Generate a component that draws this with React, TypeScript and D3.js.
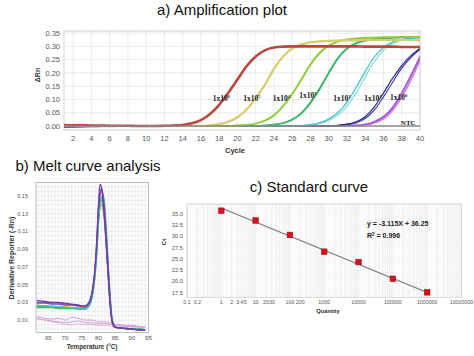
import React from "react";
import * as d3 from "d3";

// ---------- Panel a: amplification plot data ----------
const cycles = [1,2,3,4,5,6,7,8,9,10,11,12,13,14,15,16,17,18,19,20,21,22,23,24,25,26,27,28,29,30,31,32,33,34,35,36,37,38,39,40];
const ampYTicks = [0, 0.05, 0.1, 0.15, 0.2, 0.25, 0.3, 0.35];
const ampXTicks = [2,4,6,8,10,12,14,16,18,20,22,24,26,28,30,32,34,36,38,40];

const red6 = [0.004,0.003,0.003,0.002,0.002,0.001,0.001,0.001,0,0,0,0.001,0.002,0.004,0.010,0.022,0.045,0.08,0.125,0.175,0.225,0.262,0.285,0.296,0.299,0.300,0.300,0.300,0.300,0.300,0.300,0.300,0.300,0.299,0.299,0.299,0.299,0.298,0.298,0.298];
const yellow5 = [0.001,0.001,0,0,0,0,0,0,0,0,0,0,0,0,0.001,0.001,0.003,0.007,0.016,0.033,0.062,0.105,0.155,0.215,0.262,0.292,0.307,0.315,0.319,0.321,0.322,0.323,0.323,0.324,0.324,0.324,0.324,0.324,0.324,0.323];
const lime4 = [0,0,0,0,0,0,0,0,0,0,0,0,0,0,0,0,0,0,0,0.002,0.004,0.009,0.02,0.04,0.075,0.12,0.175,0.232,0.275,0.303,0.318,0.326,0.33,0.332,0.333,0.334,0.334,0.335,0.335,0.335];
const green3 = [0,0,0,0,0,0,0,0,0,0,0,0,0,0,0,0,0,0,0,0,0,0,0.002,0.005,0.011,0.024,0.048,0.088,0.14,0.2,0.255,0.292,0.312,0.322,0.328,0.331,0.333,0.334,0.335,0.335];
const cyan2a = [0,0,0,0,0,0,0,0,0,0,0,0,0,0,0,0,0,0,0,0,0,0,0,0,0,0,0.002,0.005,0.012,0.026,0.05,0.09,0.145,0.205,0.26,0.296,0.316,0.326,0.331,0.333];
const cyan2b = [0,0,0,0,0,0,0,0,0,0,0,0,0,0,0,0,0,0,0,0,0,0,0,0,0,0,0.001,0.004,0.009,0.02,0.04,0.075,0.125,0.185,0.243,0.285,0.31,0.323,0.329,0.332];
const navy1a = [-0.003,-0.002,-0.002,-0.001,-0.001,-0.001,0,0,0,0,0,0,0,0,0,0,0,0,0,0,0,0,0,0,0,0,0,0,0,0.001,0.003,0.007,0.016,0.035,0.072,0.125,0.18,0.228,0.265,0.292];
const navy1b = [-0.002,-0.002,-0.001,-0.001,-0.001,0,0,0,0,0,0,0,0,0,0,0,0,0,0,0,0,0,0,0,0,0,0,0,0,0.001,0.002,0.005,0.012,0.028,0.06,0.11,0.165,0.218,0.258,0.288];
const purple0a = [-0.003,-0.003,-0.002,-0.002,-0.001,-0.001,-0.001,0,0,0,0,0,0,0,0,0,0,0,0,0,0,0,0,0,0,0,0,0,0,0,0,0.001,0.002,0.006,0.016,0.035,0.07,0.125,0.19,0.262];
const purple0b = [-0.002,-0.002,-0.002,-0.001,-0.001,-0.001,0,0,0,0,0,0,0,0,0,0,0,0,0,0,0,0,0,0,0,0,0,0,0,0,0,0.001,0.002,0.005,0.012,0.028,0.06,0.11,0.175,0.25];
const ntcAmp = [0,0,0,0,0,0,0,0,0,0,0,0,0,0,0,0,0,0,0,0,0,0,0,0,0,0,0,0,0,0,0,0,0,0,0,0,0,0,0,0];

const ampSeries = [
  { values: purple0b, color: "#c77fe0", width: 2 },
  { values: purple0a, color: "#a94fd0", width: 1.6 },
  { values: navy1b, color: "#4040a8", width: 1.2 },
  { values: navy1a, color: "#27277e", width: 1.2 },
  { values: cyan2b, color: "#7fdde0", width: 1.2 },
  { values: cyan2a, color: "#3fbfc6", width: 1.2 },
  { values: green3, color: "#3cb46c", width: 2 },
  { values: lime4, color: "#8fcc3a", width: 2 },
  { values: yellow5, color: "#d8cc6a", width: 2.2 },
  { values: red6, color: "#b8483e", width: 2.6 },
];

const ampLabelExp = ["6", "5", "4", "3", "2", "1", "0"];
const ampLabelCycles = [17.3, 20.64, 23.86, 26.78, 30.5, 33.9, 36.71];
const ampLabelValues = [0.096, 0.096, 0.096, 0.107, 0.096, 0.096, 0.098];

// ---------- Panel b: melt curve data ----------
const meltTemps = [61.5,64,66,68,70,72,74,75,76,77,77.5,78,78.5,79,79.5,80,80.5,81,81.5,82,82.5,83,83.5,84,84.5,85,87,90,92,94];
const meltPurple = [0.032,0.031,0.030,0.030,0.029,0.028,0.027,0.026,0.026,0.029,0.033,0.04,0.052,0.07,0.1,0.14,0.163,0.158,0.14,0.115,0.085,0.055,0.028,0.01,0.004,0.002,0.001,0,-0.001,-0.001];
const meltBlue = [0.029,0.029,0.028,0.028,0.027,0.027,0.026,0.025,0.025,0.028,0.031,0.038,0.05,0.068,0.097,0.135,0.155,0.158,0.145,0.12,0.09,0.058,0.03,0.011,0.004,0.002,0.001,0,-0.001,-0.001];
const meltGreen = [0.024,0.024,0.024,0.023,0.023,0.023,0.022,0.022,0.022,0.025,0.028,0.034,0.045,0.062,0.088,0.122,0.142,0.148,0.142,0.125,0.097,0.065,0.035,0.013,0.005,0.002,0.001,0,0,-0.001];
const meltTeal = [0.026,0.026,0.025,0.025,0.024,0.024,0.023,0.023,0.023,0.025,0.028,0.034,0.045,0.06,0.085,0.118,0.14,0.149,0.15,0.135,0.105,0.07,0.038,0.015,0.006,0.002,0.001,0,0,-0.001];
const meltTan = [0.027,0.026,0.026,0.025,0.025,0.024,0.024,0.023,0.023,0.026,0.029,0.036,0.047,0.064,0.09,0.12,0.136,0.14,0.132,0.112,0.085,0.055,0.028,0.01,0.004,0.002,0.001,0,0,-0.001];
const meltGray = [0.025,0.025,0.025,0.024,0.024,0.024,0.023,0.023,0.023,0.026,0.029,0.035,0.046,0.063,0.09,0.125,0.142,0.145,0.135,0.115,0.087,0.057,0.03,0.011,0.004,0.002,0.001,0,0,-0.001];
const meltViolet = [0.03,0.03,0.029,0.029,0.028,0.027,0.026,0.025,0.025,0.028,0.032,0.039,0.05,0.067,0.095,0.132,0.15,0.156,0.148,0.127,0.097,0.064,0.034,0.013,0.005,0.002,0.001,0,-0.001,-0.001];

const ntcTemps = [61.5,64,66,68,70,72,74,76,78,80,82,84,86,88,90,92,94];
const ntcMeltA = [0.014,0.012,0.011,0.012,0.010,0.013,0.012,0.010,0.010,0.008,0.008,0.006,0.005,0.004,0.004,0.003,0.002];
const ntcMeltB = [0.012,0.010,0.009,0.008,0.007,0.008,0.009,0.007,0.007,0.006,0.006,0.005,0.004,0.003,0.003,0.002,0.002];
const ntcMeltC = [0.011,0.010,0.008,0.007,0.005,0.005,0.006,0.005,0.005,0.004,0.004,0.003,0.003,0.003,0.002,0.002,0.002];

const meltYTicks = [0.01, 0.03, 0.05, 0.07, 0.09, 0.11, 0.13, 0.15];
const meltXTicks = [65, 70, 75, 80, 85, 90, 95];

const meltSeries = [
  { values: meltTan, color: "#c9a650" },
  { values: meltGray, color: "#80808c" },
  { values: meltGreen, color: "#3cb86a" },
  { values: meltTeal, color: "#3fc4bc" },
  { values: meltBlue, color: "#5b5bd0" },
  { values: meltViolet, color: "#8e4fb0" },
  { values: meltPurple, color: "#6a3fa0" },
];
const ntcMeltSeries = [
  { values: ntcMeltA, color: "#d690c8" },
  { values: ntcMeltB, color: "#b59ad8" },
  { values: ntcMeltC, color: "#e6a9c9" },
];

// ---------- Panel c: standard curve data ----------
const quantities = [1, 10, 100, 1000, 10000, 100000, 1000000];
const ctValues = [35.66, 33.5, 30.3, 26.6, 24.3, 20.6, 17.6];
const fitX = [1, 1000000];
const fitY = [36.25, 17.56];
const stdYTicks = [17.5, 20, 22.5, 25, 27.5, 30, 32.5, 35];
const stdXTicks = [0.1, 0.2, 1, 2, 3, 4, 5, 10, 20, 30, 100, 200, 1000, 10000, 100000, 1000000, 10000000];
const stdXTickLabels = ["0.1", "0.2", "1", "2", "3", "4", "5", "10", "20", "30", "100", "200", "1000", "10000", "100000", "1000000", "10000000"];

const SANS = "'Liberation Sans', Arial, Helvetica, sans-serif";
const SERIF = "'Liberation Serif', 'Times New Roman', serif";

function AmplificationPanel() {
  const L = 64, R = 420, T = 31, B = 130;
  const x = d3.scaleLinear().domain([1, 40]).range([L, R]);
  const y = d3.scaleLinear().domain([-0.015, 0.358]).range([B, T]);
  const line = d3.line<number>().x((_, i) => x(cycles[i])).y((d) => y(d)).curve(d3.curveMonotoneX);
  return (
    <g>
      <text x={222} y={15} textAnchor="middle" fontFamily={SANS} fontSize={15} fill="#111">a) Amplification plot</text>
      <rect x={L} y={T} width={R - L} height={B - T} fill="#fff" />
      {ampXTicks.map((t) => (
        <line key={"gx" + t} x1={x(t)} x2={x(t)} y1={T} y2={B} stroke="#e6e6e6" strokeWidth={0.8} />
      ))}
      {ampYTicks.map((t) => (
        <line key={"gy" + t} x1={L} x2={R} y1={y(t)} y2={y(t)} stroke="#e6e6e6" strokeWidth={0.8} />
      ))}
      <rect x={L} y={T} width={R - L} height={B - T} fill="none" stroke="#cfcfcf" strokeWidth={1} />
      <clipPath id="clipA"><rect x={L} y={T} width={R - L} height={B - T} /></clipPath>
      <g clipPath="url(#clipA)">
        {ampSeries.map((s, i) => (
          <path key={i} d={line(s.values) || ""} fill="none" stroke={s.color} strokeWidth={s.width} strokeLinejoin="round" />
        ))}
        <path d={line(ntcAmp) || ""} fill="none" stroke="#8a8a8a" strokeWidth={1.6} />
      </g>
      {ampYTicks.map((t) => (
        <text key={"ty" + t} x={60} y={y(t) + 2.6} textAnchor="end" fontFamily={SANS} fontSize={7.5} fill="#555">{t.toFixed(2)}</text>
      ))}
      {ampXTicks.map((t) => (
        <text key={"tx" + t} x={x(t)} y={141} textAnchor="middle" fontFamily={SANS} fontSize={7.5} fill="#555">{t}</text>
      ))}
      <text x={235} y={153} textAnchor="middle" fontFamily={SANS} fontSize={7.5} fontWeight="bold" fill="#333">Cycle</text>
      <text transform={`translate(40,75) rotate(-90)`} textAnchor="middle" fontFamily={SANS} fontSize={7} fontWeight="bold" fill="#333">ΔRn</text>
      {ampLabelExp.map((e, i) => (
        <text key={"lab" + i} x={x(ampLabelCycles[i])} y={y(ampLabelValues[i])} fontFamily={SERIF} fontSize={7.5} fontWeight="bold" fill="#222">
          1x10<tspan fontSize={4.5} dy={-3}>{e}</tspan>
        </text>
      ))}
      <text x={x(37.9)} y={y(0.0057)} fontFamily={SERIF} fontSize={7} fontWeight="bold" fill="#222">NTC</text>
    </g>
  );
}

function MeltPanel() {
  const L = 36, R = 148.5, T = 182.5, B = 332.5;
  const x = d3.scaleLinear().domain([61.3, 95]).range([L, R]);
  const y = d3.scaleLinear().domain([-0.004, 0.165]).range([B, T]);
  const line = d3.line<number>().x((_, i) => x(meltTemps[i])).y((d) => y(d)).curve(d3.curveMonotoneX);
  const ntcLine = d3.line<number>().x((_, i) => x(ntcTemps[i])).y((d) => y(d)).curve(d3.curveMonotoneX);
  const gridX = d3.range(62, 95, 1);
  const gridY = d3.range(0, 0.166, 0.005);
  return (
    <g>
      <text x={88} y={171} textAnchor="middle" fontFamily={SANS} fontSize={15} fill="#111">b) Melt curve analysis</text>
      <rect x={L} y={T} width={R - L} height={B - T} fill="#fff" />
      {gridX.map((t) => (
        <line key={"gx" + t} x1={x(t)} x2={x(t)} y1={T} y2={B} stroke="#e3e3e3" strokeWidth={0.6} />
      ))}
      {gridY.map((t, i) => (
        <line key={"gy" + i} x1={L} x2={R} y1={y(t)} y2={y(t)} stroke="#e3e3e3" strokeWidth={0.6} />
      ))}
      <rect x={L} y={T} width={R - L} height={B - T} fill="none" stroke="#bdbdbd" strokeWidth={1} />
      <clipPath id="clipB"><rect x={L} y={T} width={R - L} height={B - T} /></clipPath>
      <g clipPath="url(#clipB)">
        {ntcMeltSeries.map((s, i) => (
          <path key={"n" + i} d={ntcLine(s.values) || ""} fill="none" stroke={s.color} strokeWidth={0.9} />
        ))}
        {meltSeries.map((s, i) => (
          <path key={i} d={line(s.values) || ""} fill="none" stroke={s.color} strokeWidth={1.3} strokeLinejoin="round" />
        ))}
      </g>
      {meltYTicks.map((t) => (
        <text key={"ty" + t} x={28} y={y(t) + 2} textAnchor="end" fontFamily={SANS} fontSize={5.5} fill="#555">{t.toFixed(2)}</text>
      ))}
      {meltXTicks.map((t) => (
        <text key={"tx" + t} x={x(t)} y={339.5} textAnchor="middle" fontFamily={SANS} fontSize={6.2} fill="#555">{t}</text>
      ))}
      <text x={92} y={348.5} textAnchor="middle" fontFamily={SANS} fontSize={6.3} fontWeight="bold" fill="#333">Temperature (°C)</text>
      <text transform={`translate(14,258) rotate(-90)`} textAnchor="middle" fontFamily={SANS} fontSize={7} fontWeight="bold" fill="#333">Derivative Reporter (-Rn)</text>
    </g>
  );
}

function StandardPanel() {
  const L = 187, R = 461.5, T = 204, B = 297.3;
  const x = d3.scaleLog().domain([0.1, 1e7]).range([L, R]);
  const y = d3.scaleLinear().domain([16.5, 37.15]).range([B, T]);
  const minor: number[] = [];
  for (let e = -1; e < 7; e++) for (let m = 1; m < 10; m++) minor.push(m * Math.pow(10, e));
  minor.push(1e7);
  const gridY = d3.range(17, 37.1, 0.5);
  const fit = d3.line<number>().x((_, i) => x(fitX[i])).y((d) => y(d));
  return (
    <g>
      <text x={309} y={192} textAnchor="middle" fontFamily={SANS} fontSize={15} fill="#111">c) Standard curve</text>
      <rect x={L} y={T} width={R - L} height={B - T} fill="#fff" />
      {gridY.map((t, i) => (
        <line key={"gy" + i} x1={L} x2={R} y1={y(t)} y2={y(t)} stroke="#f0f0f0" strokeWidth={0.6} />
      ))}
      {minor.map((t, i) => (
        <line key={"gx" + i} x1={x(t)} x2={x(t)} y1={T} y2={B} stroke="#e4e4e4" strokeWidth={0.6} />
      ))}
      <rect x={L} y={T} width={R - L} height={B - T} fill="none" stroke="#d4d4d4" strokeWidth={1} />
      <path d={fit(fitY) || ""} fill="none" stroke="#777" strokeWidth={1.2} />
      {quantities.map((q, i) => (
        <rect key={"p" + i} x={x(q) - 2.8} y={y(ctValues[i]) - 2.8} width={5.6} height={5.6} fill="#d0141e" stroke="#a00010" strokeWidth={0.5} />
      ))}
      {stdYTicks.map((t) => (
        <text key={"ty" + t} x={183} y={y(t) + 2} textAnchor="end" fontFamily={SANS} fontSize={5.8} fill="#555">{t.toFixed(1)}</text>
      ))}
      {stdXTicks.map((t, i) => (
        <text key={"tx" + i} x={x(t)} y={304} textAnchor="middle" fontFamily={SANS} fontSize={5.3} fill="#555">{stdXTickLabels[i]}</text>
      ))}
      <text x={328} y={313} textAnchor="middle" fontFamily={SANS} fontSize={5.8} fontWeight="bold" fill="#333">Quantity</text>
      <text transform={`translate(166,242) rotate(-90)`} textAnchor="middle" fontFamily={SANS} fontSize={6} fontWeight="bold" fill="#333">Ct</text>
      <text x={367} y={226} fontFamily={SANS} fontSize={7} fontWeight="bold" fill="#222">y = -3.115X + 36.25</text>
      <text x={367} y={238.3} fontFamily={SANS} fontSize={7} fontWeight="bold" fill="#222">R<tspan fontSize={4.5} dy={-2.5}>2</tspan><tspan dy={2.5}> = 0.996</tspan></text>
    </g>
  );
}

export default function App() {
  return (
    <svg width={474} height={356} viewBox="0 0 474 356" style={{ position: "absolute", left: 0, top: 0, background: "#fff" }}>
      <rect x={0} y={0} width={474} height={356} fill="#fff" />
      <AmplificationPanel />
      <MeltPanel />
      <StandardPanel />
    </svg>
  );
}
